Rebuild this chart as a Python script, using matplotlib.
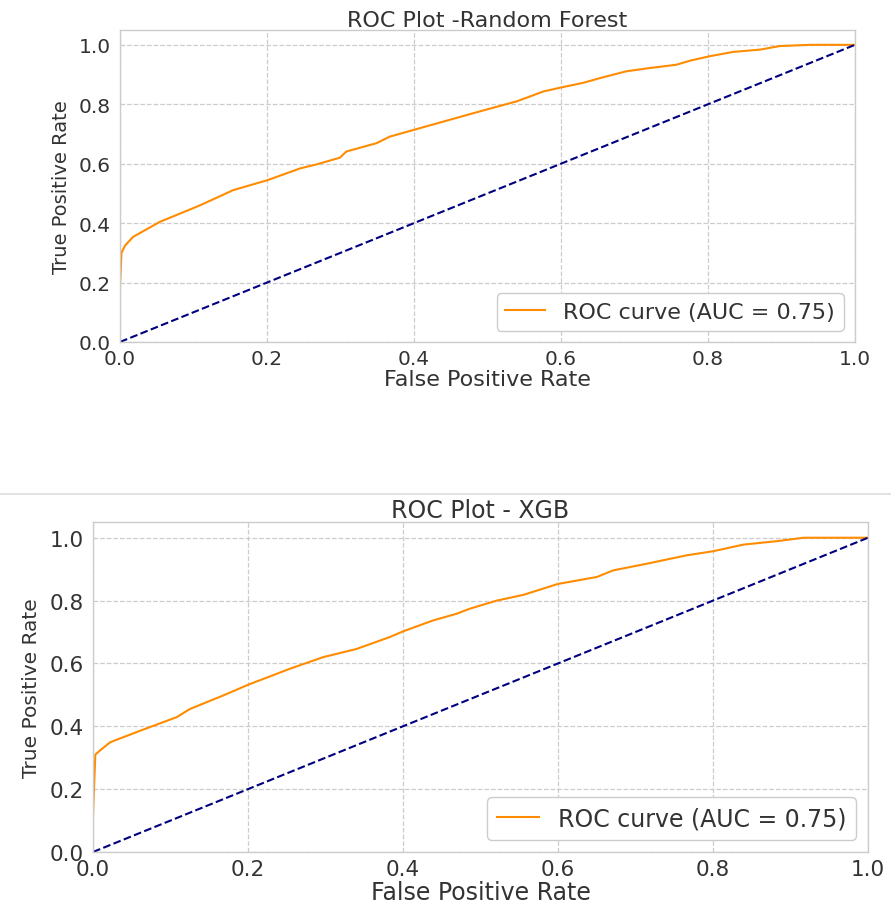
import matplotlib
matplotlib.use('Agg')
import matplotlib.pyplot as plt
from matplotlib.lines import Line2D

# ROC points
rf_fpr = [0, 0.002, 0.007, 0.018, 0.054, 0.109, 0.154, 0.2, 0.245, 0.268, 0.299, 0.308,
          0.349, 0.367, 0.4, 0.449, 0.494, 0.540, 0.576, 0.601, 0.630, 0.653, 0.689,
          0.721, 0.757, 0.776, 0.803, 0.834, 0.871, 0.898, 0.939, 1.0]
rf_tpr = [0.19, 0.30, 0.325, 0.354, 0.404, 0.46, 0.511, 0.544, 0.584, 0.598, 0.620, 0.641,
          0.669, 0.691, 0.714, 0.748, 0.779, 0.81, 0.843, 0.857, 0.872, 0.888, 0.911,
          0.922, 0.933, 0.947, 0.962, 0.976, 0.984, 0.996, 1.0, 1.0]

xgb_fpr = [0, 0.003, 0.009, 0.022, 0.061, 0.108, 0.125, 0.168, 0.2, 0.254, 0.297, 0.340,
           0.383, 0.4, 0.439, 0.469, 0.486, 0.521, 0.555, 0.6, 0.65, 0.671, 0.714, 0.766,
           0.8, 0.839, 0.882, 0.917, 1.0]
xgb_tpr = [0.12, 0.31, 0.323, 0.349, 0.386, 0.429, 0.455, 0.498, 0.532, 0.583, 0.62, 0.646,
           0.684, 0.702, 0.737, 0.758, 0.774, 0.80, 0.818, 0.853, 0.875, 0.896, 0.917, 0.944,
           0.957, 0.978, 0.989, 1.0, 1.0]

titles = ['ROC Plot -Random Forest', 'ROC Plot - XGB']
auc_label = 'ROC curve (AUC = 0.75)'
ticks = [0.0, 0.2, 0.4, 0.6, 0.8, 1.0]

fig = plt.figure(figsize=(8.91, 9.03), dpi=100)
ax1 = fig.add_axes([0.1347, 0.6202, 0.8249, 0.3455])
ax2 = fig.add_axes([0.1044, 0.0554, 0.8698, 0.3654])

def roc_panel(ax, fpr, tpr, title, fs_tick, fs_text, fs_ylab):
    ax.plot(fpr, tpr, color='darkorange', lw=1.5, label=auc_label)
    ax.plot([0, 1], [0, 1], color='navy', lw=1.5, linestyle='--')
    ax.set_xlim(0, 1)
    ax.set_ylim(0, 1.05)
    ax.set_xticks(ticks)
    ax.set_yticks(ticks)
    ax.grid(True, linestyle='--', color='#cccccc', lw=0.9)
    ax.set_axisbelow(True)
    for s in ax.spines.values():
        s.set_color('#cccccc')
        s.set_linewidth(1.0)
    ax.tick_params(length=0, labelsize=fs_tick, colors='#333333')
    ax.tick_params(axis='x', pad=5)
    ax.tick_params(axis='y', pad=6.5)
    ax.set_xlabel('False Positive Rate', fontsize=fs_text, color='#333333', labelpad=0.5)
    ax.set_ylabel('True Positive Rate', fontsize=fs_ylab, color='#333333', labelpad=6)
    ax.set_title(title, fontsize=fs_text, color='#333333', pad=2)
    leg = ax.legend(loc='lower right', fontsize=fs_text, fancybox=True, framealpha=1,
                    handlelength=1.8)
    leg.get_frame().set_edgecolor('#cccccc')
    for t in leg.get_texts():
        t.set_color('#333333')

roc_panel(ax1, rf_fpr, rf_tpr, titles[0], 14.5, 16, 14)
roc_panel(ax2, xgb_fpr, xgb_tpr, titles[1], 15.5, 17, 14.5)

# thin separator between the two screenshots
fig.add_artist(Line2D([0, 1], [1 - 495 / 903, 1 - 495 / 903], color='#dddddd', lw=1.2))

fig.savefig('out.png', dpi=100, facecolor='white')
